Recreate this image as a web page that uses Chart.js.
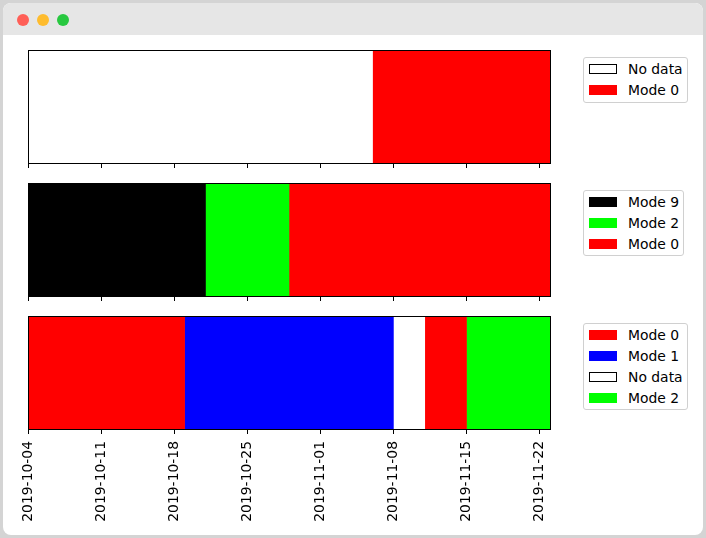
<!DOCTYPE html>
<html>
<head>
<meta charset="utf-8">
<title>Mode timeline</title>
<script src="https://cdn.jsdelivr.net/npm/chart.js@4.4.0/dist/chart.umd.min.js"></script>
<style>
  html, body { margin: 0; padding: 0; }
  body {
    width: 706px; height: 538px; position: relative; overflow: hidden;
    background: #d4d4d4; font-family: 'DejaVu Sans', sans-serif;
  }
  .window {
    position: absolute; left: 3px; top: 3px; width: 700px; height: 532px;
    background: #fff; border-radius: 8px; overflow: hidden;
  }
  .titlebar { height: 32px; background: #e6e6e6; position: relative; }
  .light { position: absolute; top: 11px; width: 12px; height: 12px; border-radius: 50%; }
  .panel { position: absolute; left: 0; }
  .legend {
    position: absolute; left: 583px; box-sizing: border-box;
    border: 1px solid #d0d0d0; border-radius: 3px; background: #fff;
    padding: 1px 4px 1px 5px; font-size: 13.9px; color: #000;
  }
  .legend-row { height: 20.8px; display: flex; align-items: center; white-space: nowrap; }
  .swatch { width: 28px; height: 10px; box-sizing: border-box; margin-right: 11px; flex: none; }
</style>
</head>
<body>
<div class="window">
  <div class="titlebar">
    <span class="light" style="left:14px;background:#ff5f57"></span>
    <span class="light" style="left:34px;background:#febc2e"></span>
    <span class="light" style="left:54px;background:#28c840"></span>
  </div>
</div>

<canvas id="panel1" class="panel" width="570" height="140" style="top:40px"></canvas>
<canvas id="panel2" class="panel" width="570" height="140" style="top:173px"></canvas>
<canvas id="panel3" class="panel" width="570" height="229" style="top:306px"></canvas>
<div id="legend1" class="legend" style="top:57px"></div>
<div id="legend2" class="legend" style="top:190px"></div>
<div id="legend3" class="legend" style="top:323px"></div>

<script>
// time axis
const axisStart = '2019-10-04';
const axisEnd = '2019-11-23';
const tickLabels = ['2019-10-04', '2019-10-11', '2019-10-18', '2019-10-25',
  '2019-11-01', '2019-11-08', '2019-11-15', '2019-11-22'];

// segments: modes[i] runs from bounds[i] to bounds[i + 1]
const panel1Modes = ['No data', 'Mode 0'];
const panel1Bounds = ['2019-10-04', '2019-11-06', '2019-11-23'];

const panel2Modes = ['Mode 9', 'Mode 2', 'Mode 0'];
const panel2Bounds = ['2019-10-04', '2019-10-21', '2019-10-29', '2019-11-23'];

const panel3Modes = ['Mode 0', 'Mode 1', 'No data', 'Mode 0', 'Mode 2'];
const panel3Bounds = ['2019-10-04', '2019-10-19', '2019-11-08', '2019-11-11', '2019-11-15', '2019-11-23'];

const modeColors = {
  'No data': '#ffffff',
  'Mode 0': '#ff0000',
  'Mode 1': '#0000ff',
  'Mode 2': '#00ff00',
  'Mode 9': '#000000',
};

const dayIndex = (s) => (Date.parse(s) - Date.parse(axisStart)) / 86400000;

// matplotlib-style box around the plot area
const framePlugin = {
  id: 'frame',
  afterDatasetsDraw(chart) {
    const { ctx, chartArea: a } = chart;
    ctx.save();
    ctx.strokeStyle = '#000';
    ctx.lineWidth = 1;
    ctx.strokeRect(a.left + 0.5, a.top + 0.5, a.right - a.left, a.bottom - a.top);
    ctx.restore();
  },
};

function renderLegend(el, chart) {
  const seen = new Set();
  chart.data.datasets.forEach((ds) => {
    if (seen.has(ds.label)) return;
    seen.add(ds.label);
    const row = document.createElement('div');
    row.className = 'legend-row';
    const sw = document.createElement('span');
    sw.className = 'swatch';
    sw.style.background = ds.backgroundColor;
    if (ds.label === 'No data') sw.style.border = '1px solid #000';
    const txt = document.createElement('span');
    txt.textContent = ds.label;
    row.appendChild(sw);
    row.appendChild(txt);
    el.appendChild(row);
  });
}

function buildPanel(canvasId, legendId, modes, bounds, showLabels, axisHeight) {
  const datasets = modes.map((mode, i) => ({
    label: mode,
    data: [[dayIndex(bounds[i]), dayIndex(bounds[i + 1])]],
    backgroundColor: modeColors[mode],
    borderWidth: 0,
    grouped: false,
    barPercentage: 1,
    categoryPercentage: 1,
  }));

  const chart = new Chart(document.getElementById(canvasId), {
    type: 'bar',
    data: { labels: [''], datasets },
    options: {
      indexAxis: 'y',
      responsive: false,
      animation: false,
      layout: { padding: { left: 28, right: 20, top: 10, bottom: 0 } },
      plugins: { legend: { display: false }, tooltip: { enabled: false } },
      scales: {
        x: {
          type: 'linear',
          min: 0,
          max: dayIndex(axisEnd),
          afterBuildTicks: (scale) => {
            scale.ticks = tickLabels.map((t) => ({ value: dayIndex(t) }));
          },
          afterFit: (scale) => { scale.height = axisHeight; },
          ticks: {
            display: showLabels,
            callback: (value, index) => tickLabels[index],
            minRotation: 90,
            maxRotation: 90,
            padding: 7,
            color: '#000',
            font: { family: 'DejaVu Sans', size: 13.9 },
          },
          grid: { drawOnChartArea: false, drawTicks: true, tickLength: 5, color: '#000', lineWidth: 1 },
          border: { display: false },
        },
        y: { display: false },
      },
    },
    plugins: [framePlugin],
  });

  renderLegend(document.getElementById(legendId), chart);
  return chart;
}

buildPanel('panel1', 'legend1', panel1Modes, panel1Bounds, false, 17);
buildPanel('panel2', 'legend2', panel2Modes, panel2Bounds, false, 17);
buildPanel('panel3', 'legend3', panel3Modes, panel3Bounds, true, 106);
</script>
</body>
</html>
